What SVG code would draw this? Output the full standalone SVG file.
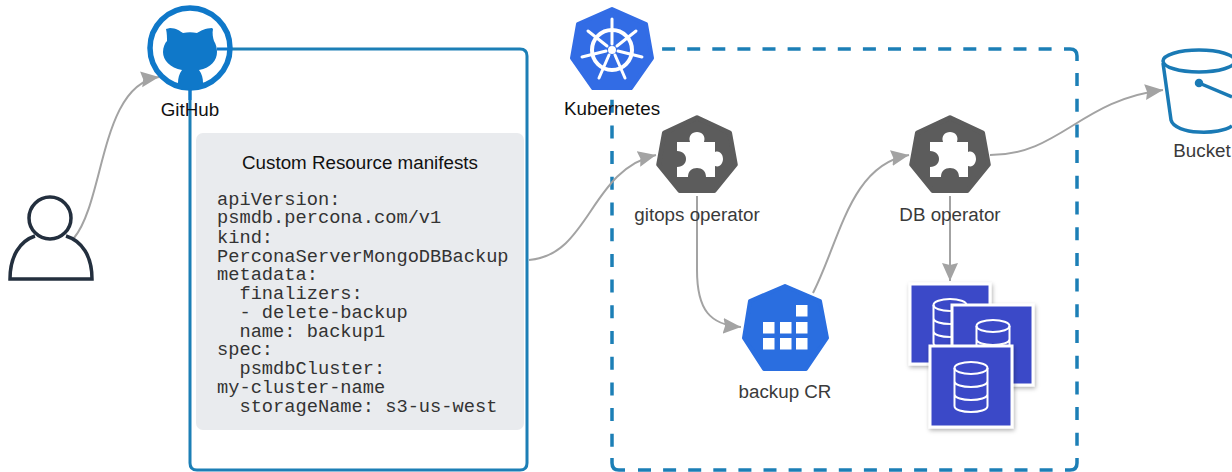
<svg xmlns="http://www.w3.org/2000/svg" width="1232" height="472" viewBox="0 0 1232 472">
<defs>
<marker id="arr" markerUnits="userSpaceOnUse" markerWidth="20" markerHeight="18" refX="18" refY="8" orient="auto"><path d="M0 0L18 8L0 16L2 8Z" fill="#a3a3a3"/></marker>
<filter id="sh" x="-10%" y="-10%" width="125%" height="125%"><feDropShadow dx="1" dy="2" stdDeviation="2" flood-color="#000" flood-opacity=".3"/></filter>
<g id="puzzle"><path d="M-20 -17H-7C-9 -23 -5 -27 0 -27C5 -27 9 -23 7 -17H18V-7C23 -9 26 -4 26 0C26 4 23 9 18 7V18H9C9 12 5 9 0 9C-5 9 -9 12 -9 18H-20V8C-14 8 -11 4 -11 0C-11 -4 -14 -8 -20 -8Z" fill="#fff"/></g>
<path id="hept" d="M0 -39L34 -23L40 10L18 37H-18L-40 10L-34 -23Z" fill="#5c5c5c" stroke="#5c5c5c" stroke-width="5" stroke-linejoin="round" transform="scale(.96)"/>
<g id="db" fill="none" stroke="#fff" stroke-width="2"><ellipse cx="0" cy="-19" rx="16.500" ry="6"/><path d="M-16.500 -19V19C-16.500 27 16.500 27 16.500 19V-19M-16.500 -6C-16.500 2 16.500 2 16.500 -6M-16.500 7C-16.500 15 16.500 15 16.500 7"/></g>
</defs>
<style>
text{font-family:"Liberation Sans",Arial,sans-serif;font-size:18.800px;fill:#111;text-anchor:middle}
.g{fill:#3a3a3a}
.mono{font-family:"Liberation Mono","Courier New",monospace;font-size:18.700px;fill:#333;text-anchor:start}
.c{fill:none;stroke:#a3a3a3;stroke-width:2}
.sq{fill:#3a48c8;stroke:#fff;stroke-width:3;filter:url(#sh)}
.d{fill:none;stroke:#1c7fb6;stroke-width:3.500}
.dash{stroke-dasharray:13 12.100}
.dashv{stroke-dasharray:13 12.700}
</style>
<rect width="1232" height="472" fill="#fff"/>
<g id="containers">
<path d="M215 49H520Q527 49 527 56V463Q527 470 520 470H197Q190 470 190 463V90" fill="none" stroke="#1c7fb6" stroke-width="3"/>
<path class="d dash" d="M637 49H1052"/>
<path class="d" d="M1064 49H1070Q1077 49 1077 56V61"/>
<path class="d dashv" d="M1077 73V446"/>
<path class="d" d="M1077 458V463Q1077 470 1070 470H1065"/>
<path class="d dash" d="M638 470H1053"/>
<path class="d" d="M625 470H619Q612 470 612 463V458"/>
<path class="d dashv" d="M612 74V447"/>
</g>
<g id="connectors">
<path class="c" d="M74 238C105 200 100 85 159 77" marker-end="url(#arr)"/>
<path class="c" d="M529 260C590 255 590 170 656 155" marker-end="url(#arr)"/>
<path class="c" d="M697 196V270C697 310 710 325 741 327" marker-end="url(#arr)"/>
<path class="c" d="M813 293C840 240 850 165 909 155" marker-end="url(#arr)"/>
<path class="c" d="M990 155C1060 155 1080 100 1163 90" marker-end="url(#arr)"/>
<path class="c" d="M950 196V281" marker-end="url(#arr)"/>
</g>
<g id="user" fill="none" stroke="#232f3e" stroke-width="3.500"><circle cx="50" cy="218" r="21"/><path d="M35 236C20 241 10 256 10 279H92C92 256 82 241 66 236"/></g>
<g id="github">
<circle cx="190" cy="48" r="40" fill="#fff" stroke="#0f78c9" stroke-width="5.500"/>
<path d="M166 29L170 28C176 28 180 31 183 33C188 32 192 32 197 33C200 31 206 28 212 28L213 29C212 33 213 38 214 41C216 44 217 48 217 52C217 60 211 68 199 70C202 74 203 78 203 83C203 87 198 90 190 90C182 90 178 87 178 83C178 78 179 74 182 70C170 68 163 60 163 52C163 47 165 43 167 41C167 38 167 33 166 29Z" fill="#0f78c9"/>
<path d="M217 49H232M190 88V100" stroke="#0f78c9" stroke-width="3" fill="none"/>
<text x="190" y="116">GitHub</text>
</g>
<g id="manifest">
<rect x="196" y="133" width="328" height="297" rx="7" fill="#e9ebee"/>
<text x="360" y="169">Custom Resource manifests</text>
<text class="mono"><tspan x="217" y="205">apiVersion:</tspan><tspan x="217" y="223">psmdb.percona.com/v1</tspan><tspan x="217" y="243">kind:</tspan><tspan x="217" y="262">PerconaServerMongoDBBackup</tspan><tspan x="217" y="280">metadata:</tspan><tspan x="217" y="299" xml:space="preserve">  finalizers:</tspan><tspan x="217" y="318" xml:space="preserve">  - delete-backup</tspan><tspan x="217" y="337" xml:space="preserve">  name: backup1</tspan><tspan x="217" y="355">spec:</tspan><tspan x="217" y="374" xml:space="preserve">  psmdbCluster:</tspan><tspan x="217" y="393">my-cluster-name</tspan><tspan x="217" y="412" xml:space="preserve">  storageName: s3-us-west</tspan></text>
</g>
<g id="kubernetes">
<path d="M612 9L646 24L652 58L631 88H593L572 58L578 24Z" fill="#326ce5" stroke="#326ce5" stroke-width="4" stroke-linejoin="round"/>
<circle cx="612" cy="50" r="20" fill="none" stroke="#fff" stroke-width="4"/>
<path d="M612 44V19M617 46L636 31M618 51L642 57M615 55L625 78M609 55L599 78M606 51L582 57M607 46L588 31" stroke="#fff" stroke-width="3" stroke-linecap="round"/>
<circle cx="612" cy="50" r="4" fill="#fff"/>
<text x="612" y="115">Kubernetes</text>
</g>
<g id="gitops">
<use href="#hept" x="697" y="155"/>
<use href="#puzzle" x="697" y="159"/>
<text x="697" y="221" class="g">gitops operator</text>
</g>
<g id="dboperator">
<use href="#hept" x="950" y="155"/>
<use href="#puzzle" x="950" y="159"/>
<text x="950" y="221" class="g">DB operator</text>
</g>
<g id="backup">
<path d="M785 286L820 301L827 338L806 369H764L744 338L750 301Z" fill="#2a6ee0" stroke="#2a6ee0" stroke-width="4" stroke-linejoin="round"/>
<g fill="#fff"><rect x="763" y="322" width="11.500" height="11.500"/><rect x="780" y="322" width="11.500" height="11.500"/><rect x="796" y="322" width="11.500" height="11.500"/><rect x="763" y="338" width="11.500" height="11.500"/><rect x="780" y="338" width="11.500" height="11.500"/><rect x="796" y="338" width="11.500" height="11.500"/><rect x="796" y="305" width="11.500" height="11.500"/></g>
<text x="785" y="398" class="g">backup CR</text>
</g>
<g id="databases">
<rect x="910" y="284" width="80" height="80" class="sq"/><use href="#db" x="950" y="324"/>
<rect x="952" y="305" width="81" height="80" class="sq"/><use href="#db" x="993" y="345"/>
<rect x="930" y="346" width="82" height="81" class="sq"/><use href="#db" x="971" y="387"/>
</g>
<g id="bucket" fill="none" stroke="#1a7ab5" stroke-width="3.500">
<ellipse cx="1199" cy="61" rx="36" ry="11"/>
<path d="M1163 63L1171 120C1175 135 1220 135 1232 126"/>
<path d="M1199 83L1232 97"/>
<circle cx="1199" cy="83" r="2.500" fill="#1a7ab5"/>
<text x="1202" y="157" stroke="none" class="g">Bucket</text>
</g>
</svg>
